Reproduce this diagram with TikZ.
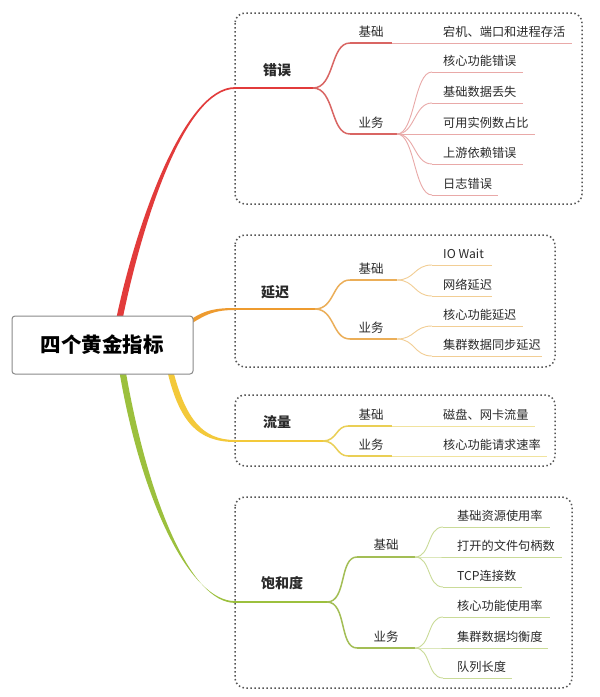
\documentclass[tikz,border=0pt]{standalone}
\usepackage{fontspec}
\setmainfont{Noto Sans CJK SC}
\usetikzlibrary{calc}
\definecolor{txt}{HTML}{2A2A2A}
\definecolor{boxgray}{HTML}{555555}
\definecolor{rootgray}{HTML}{8A8A8A}
\definecolor{redM}{HTML}{E23B3B}
\definecolor{redS}{HTML}{D96563}
\definecolor{redL}{HTML}{E9A9A8}
\definecolor{orM}{HTML}{EE9B2F}
\definecolor{orS}{HTML}{EBAE58}
\definecolor{orL}{HTML}{F2CE95}
\definecolor{yeM}{HTML}{F3C93A}
\definecolor{yeS}{HTML}{EACF55}
\definecolor{yeL}{HTML}{F1E39E}
\definecolor{grM}{HTML}{9CC03D}
\definecolor{grS}{HTML}{A3BE55}
\definecolor{grL}{HTML}{CADB98}
\begin{document}
\begin{tikzpicture}[x=1pt,y=-1pt,
  grpbox/.style={draw=boxgray, line width=1.5pt, dash pattern=on 1.5pt off 2.5pt, rounded corners=10pt},
  rootbox/.style={draw=rootgray, line width=1pt, fill=white, rounded corners=3pt, minimum width=181pt, minimum height=58pt, inner sep=0pt, font=\fontsize{20.5}{22}\selectfont\bfseries, text=black},
  lvlone/.style={font=\fontsize{14}{16}\selectfont\bfseries, text=txt, inner sep=0pt},
  sublab/.style={font=\fontsize{12.5}{14}\selectfont, text=txt, inner sep=0pt},
  leaf/.style={font=\fontsize{12.2}{14}\selectfont, text=txt, inner sep=0pt, anchor=west},
  mainln/.style={line width=1.8pt},
  subln/.style={line width=2.4pt},
  forkln/.style={line width=1.5pt},
  leafln/.style={line width=1pt},
  fanln/.style={line width=0.9pt}
]
\fill[white] (0,0) rectangle (600,697);
\useasboundingbox (0,0) rectangle (600,697);

% group boxes
\draw[grpbox] (235,13) rectangle (582,204);
\draw[grpbox] (235,235) rectangle (555,367);
\draw[grpbox] (235,395) rectangle (555,466);
\draw[grpbox] (235,497) rectangle (572,688);

% ---------- root connection points ----------
\coordinate (rRed) at (120,316);
\coordinate (rOr) at (193,320);
\coordinate (rYe) at (171,374);
\coordinate (rGr) at (123,374);

% ================= 错误 (red) =================
\coordinate (e0) at (235,88);
\coordinate (ef) at (313,88);
\coordinate (eb1) at (350,43);
\coordinate (eb2) at (392,43);
\coordinate (ey1) at (350,134);
\coordinate (ey2) at (397,134);
\fill[redM] ($(rRed)+(-3.2,0)$) .. controls (137.5,219) and (185,87.2) .. ($(e0)+(0,-0.9)$)
  -- ($(e0)+(0,0.9)$) .. controls (185,88.8) and (142.8,221) .. ($(rRed)+(3.2,0)$) -- cycle;
\draw[redM, mainln] (e0) -- (ef);
\draw[redS, forkln] (ef) .. controls +(22,0) and +(-20,0) .. (eb1);
\draw[redS, forkln] (ef) .. controls +(22,0) and +(-20,0) .. (ey1);
\draw[redS, subln] (eb1) -- (eb2);
\draw[redS, subln] (ey1) -- (ey2);
\node[lvlone] (err) at (277,70) {错误};
\node[sublab] (errB) at (371,32) {基础};
\node[sublab] (errY) at (371,123) {业务};
% leaves
\coordinate (e1a) at (572,43);
\draw[redL, leafln] (eb2) -- (e1a);
\node[leaf] (eL1) at (443,32) {宕机、端口和进程存活};
\foreach \n/\yy/\xe/\t in {2/72/523/核心功能错误, 3/103/523/基础数据丢失, 4/134/535/可用实例数占比, 5/164/523/上游依赖错误, 6/195/498/日志错误}{
  \coordinate (es\n) at (432,\yy);
  \coordinate (ee\n) at (\xe,\yy);
  \draw[redL, fanln] (ey2) .. controls +(18,0) and +(-18,0) .. (es\n);
  \draw[redL, leafln] (es\n) -- (ee\n);
  \node[leaf] (eL\n) at (443,\yy-11) {\t};
}

% ================= 延迟 (orange) =================
\coordinate (d0) at (235,309);
\coordinate (df) at (315,309);
\coordinate (db1) at (350,280);
\coordinate (db2) at (397,280);
\coordinate (dy1) at (350,339);
\coordinate (dy2) at (397,339);
\fill[orM] ($(rOr)+(0,-2)$) .. controls (205,310.5) and (215,308) .. ($(d0)+(0,-1)$)
  -- ($(d0)+(0,1)$) .. controls (215,310) and (207,314) .. ($(rOr)+(0,2.5)$) -- cycle;
\draw[orM, mainln] (d0) -- (df);
\draw[orS, forkln] (df) .. controls +(20,0) and +(-18,0) .. (db1);
\draw[orS, forkln] (df) .. controls +(20,0) and +(-18,0) .. (dy1);
\draw[orS, subln] (db1) -- (db2);
\draw[orS, subln] (dy1) -- (dy2);
\node[lvlone] (lat) at (275,292) {延迟};
\node[sublab] (latB) at (371,269) {基础};
\node[sublab] (latY) at (371,328) {业务};
\foreach \n/\yy/\xe/\t/\pp in {1/265/492/IO Wait/db2, 2/296/492/网络延迟/db2, 3/326/523/核心功能延迟/dy2, 4/356/542/集群数据同步延迟/dy2}{
  \coordinate (ds\n) at (432,\yy);
  \coordinate (de\n) at (\xe,\yy);
  \draw[orL, fanln] (\pp) .. controls +(18,0) and +(-18,0) .. (ds\n);
  \draw[orL, leafln] (ds\n) -- (de\n);
  \node[leaf] (dL\n) at (443,\yy-11) {\t};
}

% ================= 流量 (yellow) =================
\coordinate (y0) at (235,441);
\coordinate (yf) at (323,441);
\coordinate (yb1) at (348,426);
\coordinate (yb2) at (392,426);
\coordinate (yy1) at (348,456);
\coordinate (yy2) at (392,456);
\fill[yeM] ($(rYe)+(3,0)$) .. controls (186,418) and (202,440) .. ($(y0)+(0,-1)$)
  -- ($(y0)+(0,1)$) .. controls (198,442) and (180,422) .. ($(rYe)+(-3,0)$) -- cycle;
\draw[yeM, mainln] (y0) -- (yf);
\draw[yeS, forkln] (yf) .. controls +(14,0) and +(-12,0) .. (yb1);
\draw[yeS, forkln] (yf) .. controls +(14,0) and +(-12,0) .. (yy1);
\draw[yeS, subln] (yb1) -- (yb2);
\draw[yeS, subln] (yy1) -- (yy2);
\node[lvlone] (flow) at (277,422) {流量};
\node[sublab] (flowB) at (371,415) {基础};
\node[sublab] (flowY) at (371,445) {业务};
\coordinate (ye1) at (535,426);
\coordinate (ye2) at (547,456);
\draw[yeL, leafln] (yb2) -- (ye1);
\draw[yeL, leafln] (yy2) -- (ye2);
\node[leaf] (yL1) at (443,415) {磁盘、网卡流量};
\node[leaf] (yL2) at (443,445) {核心功能请求速率};

% ================= 饱和度 (green) =================
\coordinate (g0) at (235,602);
\coordinate (gf) at (327,602);
\coordinate (gb1) at (357,557);
\coordinate (gb2) at (415,557);
\coordinate (gy1) at (357,648);
\coordinate (gy2) at (415,648);
\fill[grM] ($(rGr)+(-3.2,0)$) .. controls (142,502) and (190,601.1) .. ($(g0)+(0,-0.9)$)
  -- ($(g0)+(0,0.9)$) .. controls (190,602.9) and (148,498) .. ($(rGr)+(3.2,0)$) -- cycle;
\draw[grM, mainln] (g0) -- (gf);
\draw[grS, forkln] (gf) .. controls +(20,0) and +(-18,0) .. (gb1);
\draw[grS, forkln] (gf) .. controls +(20,0) and +(-18,0) .. (gy1);
\draw[grS, subln] (gb1) -- ($(gb2)+(-8,0)$);
\draw[grS, subln] (gy1) -- ($(gy2)+(-8,0)$);
\draw[grS, forkln] ($(gb2)+(-8,0)$) -- (gb2);
\draw[grS, forkln] ($(gy2)+(-8,0)$) -- (gy2);
\node[lvlone] (sat) at (282,583) {饱和度};
\node[sublab] (satB) at (386,545) {基础};
\node[sublab] (satY) at (386,637) {业务};
\foreach \n/\yy/\xe/\t/\pp in {1/527/550/基础资源使用率/gb2, 2/557/562/打开的文件句柄数/gb2, 3/587/522/TCP连接数/gb2, 4/617/550/核心功能使用率/gy2, 5/648/548/集群数据均衡度/gy2, 6/678/512/队列长度/gy2}{
  \coordinate (gs\n) at (443,\yy);
  \coordinate (ge\n) at (\xe,\yy);
  \draw[grL, fanln] (\pp) .. controls +(16,0) and +(-16,0) .. (gs\n);
  \draw[grL, leafln] (gs\n) -- (ge\n);
  \node[leaf] (gL\n) at (457,\yy-11) {\t};
}

% root
\node[rootbox] (root) at (102.5,345) {四个黄金指标};
\end{tikzpicture}
\end{document}
